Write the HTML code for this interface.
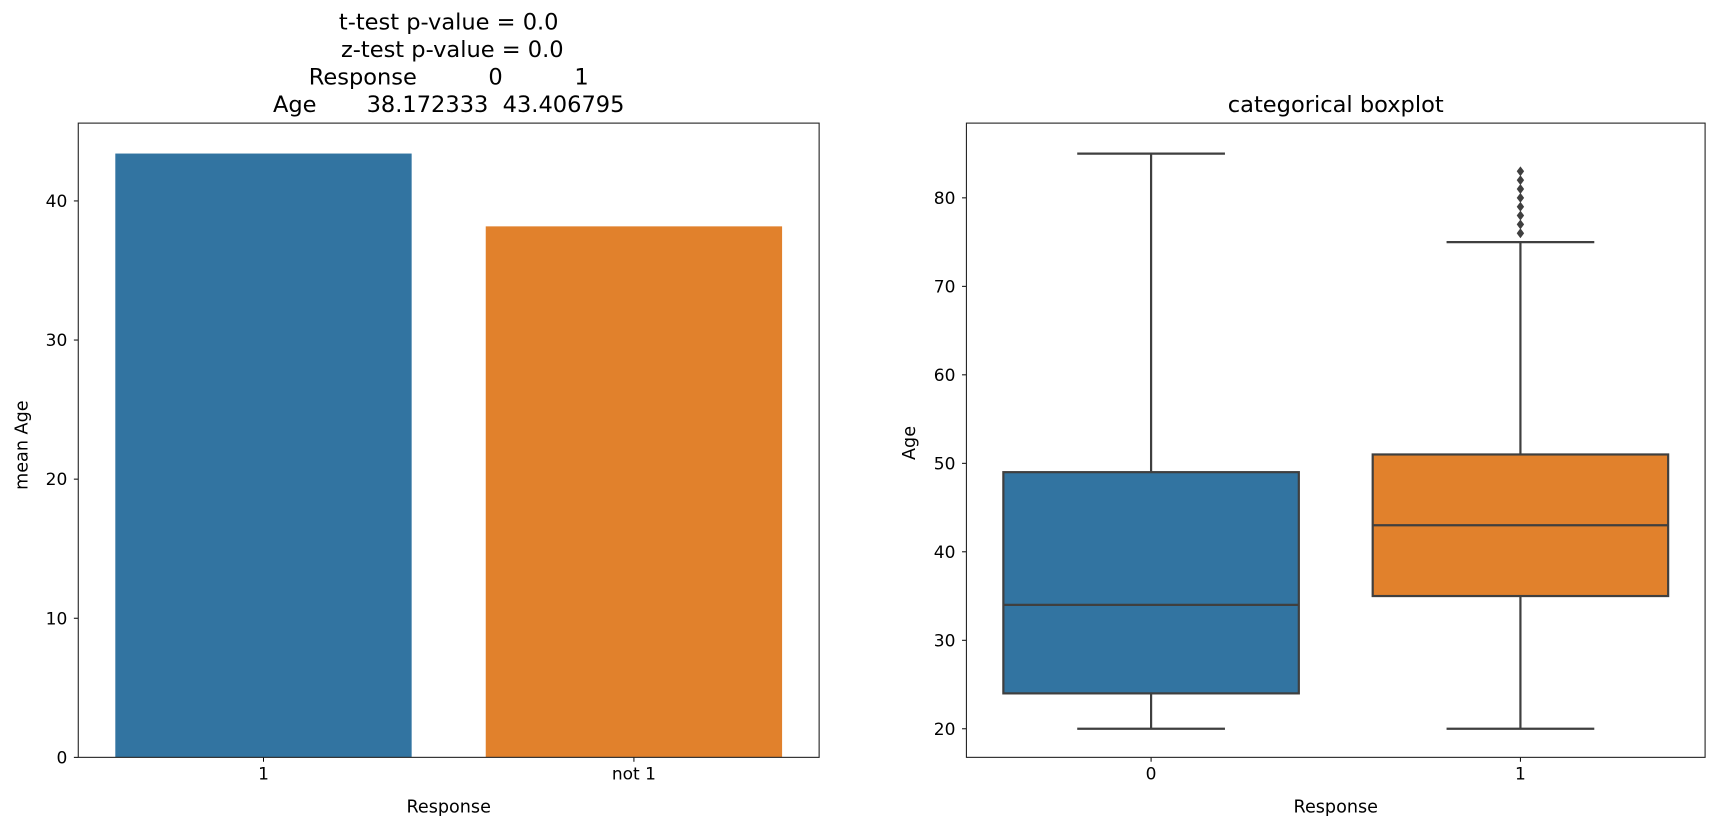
<!DOCTYPE html>
<html><head><meta charset="utf-8"><style>html,body{margin:0;padding:0;background:#fff}svg{display:block}text{font-family:"DejaVu Sans","Liberation Sans",sans-serif;fill:#000}</style></head>
<body>
<svg id="fig" width="1724" height="831" viewBox="0 0 1568 756" xmlns="http://www.w3.org/2000/svg">
<rect width="1568" height="756" fill="#fff"/>
<g id="left"></g>
<g id="right"></g>
</svg>
<script>
const barCats = ['1', 'not 1'];
const barVals = [43.406795, 38.172333];
const barColors = ['#3274a1', '#e1812c'];
const barTicks = [0, 10, 20, 30, 40];
const boxCats = ['0', '1'];
const boxMin = [20, 20];
const boxQ1 = [24, 35];
const boxMed = [34, 43];
const boxQ3 = [49, 51];
const boxMax = [85, 75];
const outliers1 = [76, 77, 78, 79, 80, 81, 82, 83];
const boxTicks = [20, 30, 40, 50, 60, 70, 80];
const titleLines = ['t-test p-value = 0.0', ' z-test p-value = 0.0', 'Response          0          1', 'Age       38.172333  43.406795'];

const NS = 'http://www.w3.org/2000/svg';
const TF = 15.5, LF = 16, HF = 20.5;
function mk(parent, tag, attrs, text) {
  const e = document.createElementNS(NS, tag);
  for (const k in attrs) e.setAttribute(k, attrs[k]);
  if (text !== undefined) e.textContent = text;
  parent.appendChild(e);
  return e;
}
const L = document.getElementById('left');
const R = document.getElementById('right');

// Left axes
const lx0 = 71, lx1 = 745, ly0 = 112, ly1 = 689;
const ly = v => ly1 - v * 12.655;
const lband = (lx1 - lx0) / barCats.length;
barVals.forEach((v, i) => {
  const cx = lx0 + lband * (i + 0.5), w = lband * 0.8;
  const r = mk(L, 'rect', {x: cx - w / 2, y: ly(v), width: w, height: ly(0) - ly(v), fill: barColors[i]});
  
  
  mk(L, 'line', {x1: cx, x2: cx, y1: ly1, y2: ly1 + 4, stroke: '#000', 'stroke-width': 0.9});
  const t = mk(L, 'text', {x: cx, y: ly1 + 20, 'font-size': TF, 'text-anchor': 'middle'}, barCats[i]);
  
  
});
barTicks.forEach(v => {
  mk(L, 'line', {x1: lx0 - 4, x2: lx0, y1: ly(v), y2: ly(v), stroke: '#000', 'stroke-width': 0.9});
  const t = mk(L, 'text', {x: lx0 - 10, y: ly(v) + 5.5, 'font-size': TF, 'text-anchor': 'end'}, v);
  
  
});
mk(L, 'rect', {x: lx0, y: ly0, width: lx1 - lx0, height: ly1 - ly0, fill: 'none', stroke: '#222', 'stroke-width': 1});
let t = mk(L, 'text', {x: (lx0 + lx1) / 2, y: 739, 'font-size': LF, 'text-anchor': 'middle'}, 'Response');
 
t = mk(L, 'text', {x: 25, y: 405, 'font-size': LF, 'text-anchor': 'middle', transform: 'rotate(-90 25 405)'}, 'mean Age');
 
titleLines.forEach((s, i) => {
  const e = mk(L, 'text', {x: 408, y: 27 + i * 25, 'font-size': HF, 'text-anchor': 'middle', 'xml:space': 'preserve', style: 'white-space:pre'}, s);
  
  
});

// Right axes
const rx0 = 879, rx1 = 1551, ry0 = 112, ry1 = 689;
const ry = v => 663 - (v - 20) * 8.05;
const rband = (rx1 - rx0) / boxCats.length;
const gray = '#3f3f3f';
boxCats.forEach((c, i) => {
  const cx = rx0 + rband * (i + 0.5), w = rband * 0.8, capw = w / 2;
  const g = mk(R, 'g', {});
  
  
  mk(g, 'line', {x1: cx, x2: cx, y1: ry(boxMin[i]), y2: ry(boxQ1[i]), stroke: gray, 'stroke-width': 2});
  mk(g, 'line', {x1: cx, x2: cx, y1: ry(boxQ3[i]), y2: ry(boxMax[i]), stroke: gray, 'stroke-width': 2});
  mk(g, 'line', {x1: cx - capw / 2, x2: cx + capw / 2, y1: ry(boxMin[i]), y2: ry(boxMin[i]), stroke: gray, 'stroke-width': 2});
  mk(g, 'line', {x1: cx - capw / 2, x2: cx + capw / 2, y1: ry(boxMax[i]), y2: ry(boxMax[i]), stroke: gray, 'stroke-width': 2});
  mk(g, 'rect', {x: cx - w / 2, y: ry(boxQ3[i]), width: w, height: ry(boxQ1[i]) - ry(boxQ3[i]), fill: barColors[i], stroke: gray, 'stroke-width': 2});
  mk(g, 'line', {x1: cx - w / 2, x2: cx + w / 2, y1: ry(boxMed[i]), y2: ry(boxMed[i]), stroke: gray, 'stroke-width': 2});
  if (i === 1) outliers1.forEach(v => {
    const y = ry(v), s = 4.5;
    const d = mk(g, 'polygon', {points: `${cx},${y - s} ${cx + s * 0.75},${y} ${cx},${y + s} ${cx - s * 0.75},${y}`, fill: gray});
    
    
  });
  mk(R, 'line', {x1: cx, x2: cx, y1: ry1, y2: ry1 + 4, stroke: '#000', 'stroke-width': 0.9});
  const tt = mk(R, 'text', {x: cx, y: ry1 + 20, 'font-size': TF, 'text-anchor': 'middle'}, c);
  
  
});
boxTicks.forEach(v => {
  mk(R, 'line', {x1: rx0 - 4, x2: rx0, y1: ry(v), y2: ry(v), stroke: '#000', 'stroke-width': 0.9});
  const tt = mk(R, 'text', {x: rx0 - 10, y: ry(v) + 5.5, 'font-size': TF, 'text-anchor': 'end'}, v);
  
  
});
mk(R, 'rect', {x: rx0, y: ry0, width: rx1 - rx0, height: ry1 - ry0, fill: 'none', stroke: '#222', 'stroke-width': 1});
t = mk(R, 'text', {x: (rx0 + rx1) / 2, y: 739, 'font-size': LF, 'text-anchor': 'middle'}, 'Response');
 
t = mk(R, 'text', {x: 832, y: 403, 'font-size': LF, 'text-anchor': 'middle', transform: 'rotate(-90 832 403)'}, 'Age');
 
t = mk(R, 'text', {x: (rx0 + rx1) / 2, y: 102, 'font-size': HF, 'text-anchor': 'middle'}, 'categorical boxplot');
 
</script>
</body></html>
